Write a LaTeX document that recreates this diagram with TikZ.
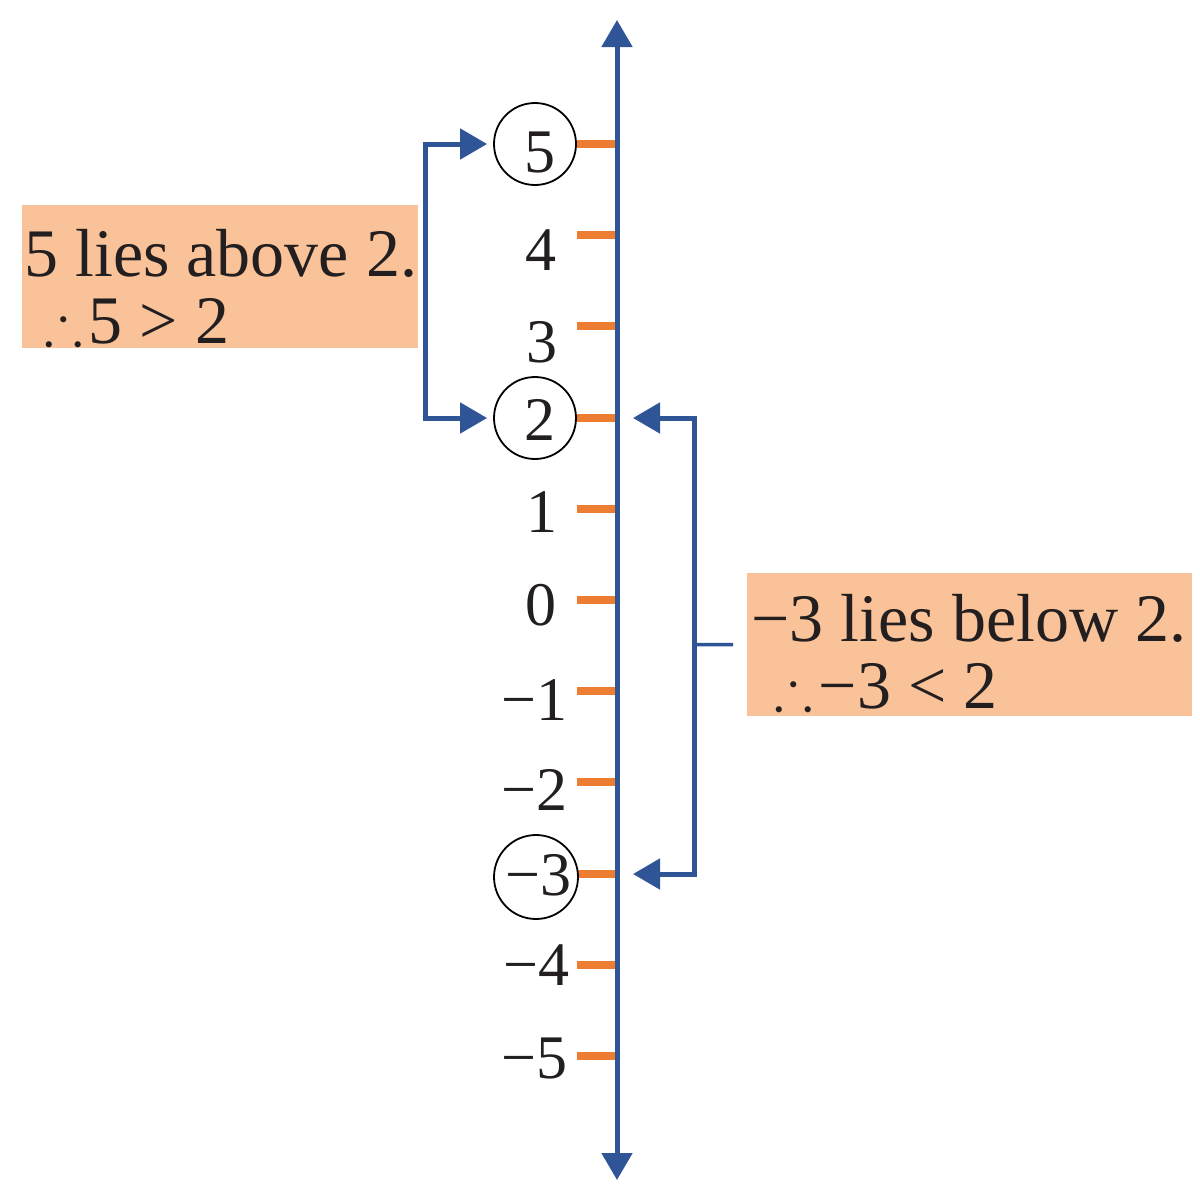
\documentclass[tikz,border=0pt]{standalone}
\usepackage{amssymb}
\usepackage{fontspec}
\setmainfont{Liberation Serif}
\usetikzlibrary{arrows.meta}
\definecolor{axisblue}{RGB}{47,85,151}
\definecolor{tickorange}{RGB}{237,125,49}
\definecolor{boxpeach}{RGB}{249,194,152}
\definecolor{inkdark}{RGB}{35,31,32}
\begin{document}
\begin{tikzpicture}[x=1pt,y=-1pt,
  blueline/.style={draw=axisblue, line width=5pt},
  tip/.style={-{Triangle[length=27pt,width=30pt]}},
  tickmark/.style={draw=tickorange, line width=7.5pt},
  numlabel/.style={text=inkdark, font=\fontsize{62}{62}\selectfont, inner sep=0pt},
  ring/.style={circle, draw=black, line width=1.8pt, minimum size=82pt, inner sep=0pt},
  notebox/.style={fill=boxpeach, inner sep=0pt, anchor=north west},
  notetext/.style={text=inkdark, font=\fontsize{68}{68}\selectfont, inner sep=0pt, anchor=base west, text height=48pt, text depth=4pt}]
\useasboundingbox (0,0) rectangle (1200,1200);
% note boxes
\node[notebox, minimum width=396pt, minimum height=143pt] (lbox) at (22,205) {};
\node[notebox, minimum width=445pt, minimum height=143pt] (rbox) at (747,573) {};
% ticks
\foreach \nm/\yy in {t5/144,t4/235,t3/326,t2/418,t1/509,t0/600,tm1/691,tm2/782,tm3/874,tm4/965,tm5/1056}{
  \coordinate (\nm) at (617,\yy);
  \coordinate (\nm s) at (577,\yy);
  \draw[tickmark] (\nm s) -- (\nm);
}
% axis
\coordinate (axtop) at (617,20);
\coordinate (axbot) at (617,1180);
\draw[blueline, {Triangle[length=27pt,width=30pt]}-{Triangle[length=27pt,width=30pt]}] (axbot) -- (axtop);
% labels
\node[numlabel, anchor=base] (n5) at (540,172) {5};
\node[numlabel, anchor=base] (n4) at (541,270) {4};
\node[numlabel, anchor=base] (n3) at (542,362) {3};
\node[numlabel, anchor=base] (n2) at (540,440) {2};
\node[numlabel, anchor=base] (n1) at (542,532) {1};
\node[numlabel, anchor=base] (n0) at (541,625) {0};
\node[numlabel, anchor=base east] (nm1) at (568,720) {−1};
\node[numlabel, anchor=base east] (nm2) at (568,810) {−2};
\node[numlabel, anchor=base east] (nm3) at (572,895) {−3};
\node[numlabel, anchor=base east] (nm4) at (570,985) {−4};
\node[numlabel, anchor=base east] (nm5) at (568,1078) {−5};
% rings
\node[ring] (c5) at (535,144) {};
\node[ring] (c2) at (535,418) {};
\node[ring, minimum size=84pt] (cm3) at (536,877) {};
% left bracket
\coordinate (lb) at (425,282);
\draw[blueline, tip, shorten >=6pt] (lb) |- (c5.west);
\draw[blueline, tip, shorten >=6pt] (lb) |- (c2.west);
% right bracket
\coordinate (rb) at (694,644.5);
\draw[blueline, tip, shorten >=16pt] (rb) |- (t2);
\draw[blueline, tip, shorten >=16pt] (rb) |- (tm3);
\draw[blueline, line width=3.5pt, shorten >=14pt] (rb) -- (rbox.west);
% texts
\node[notetext] (lt1) at (24,276) {5 lies above 2.};
\node[notetext] (lt2) at (44,343) {\scalebox{0.85}{$\therefore$}\hspace{6pt}5 > 2};
\node[notetext] (rt1) at (751,641) {−3 lies below 2.};
\node[notetext] (rt2) at (774,708) {\scalebox{0.85}{$\therefore$}\hspace{6pt}−3 < 2};
\end{tikzpicture}
\end{document}
